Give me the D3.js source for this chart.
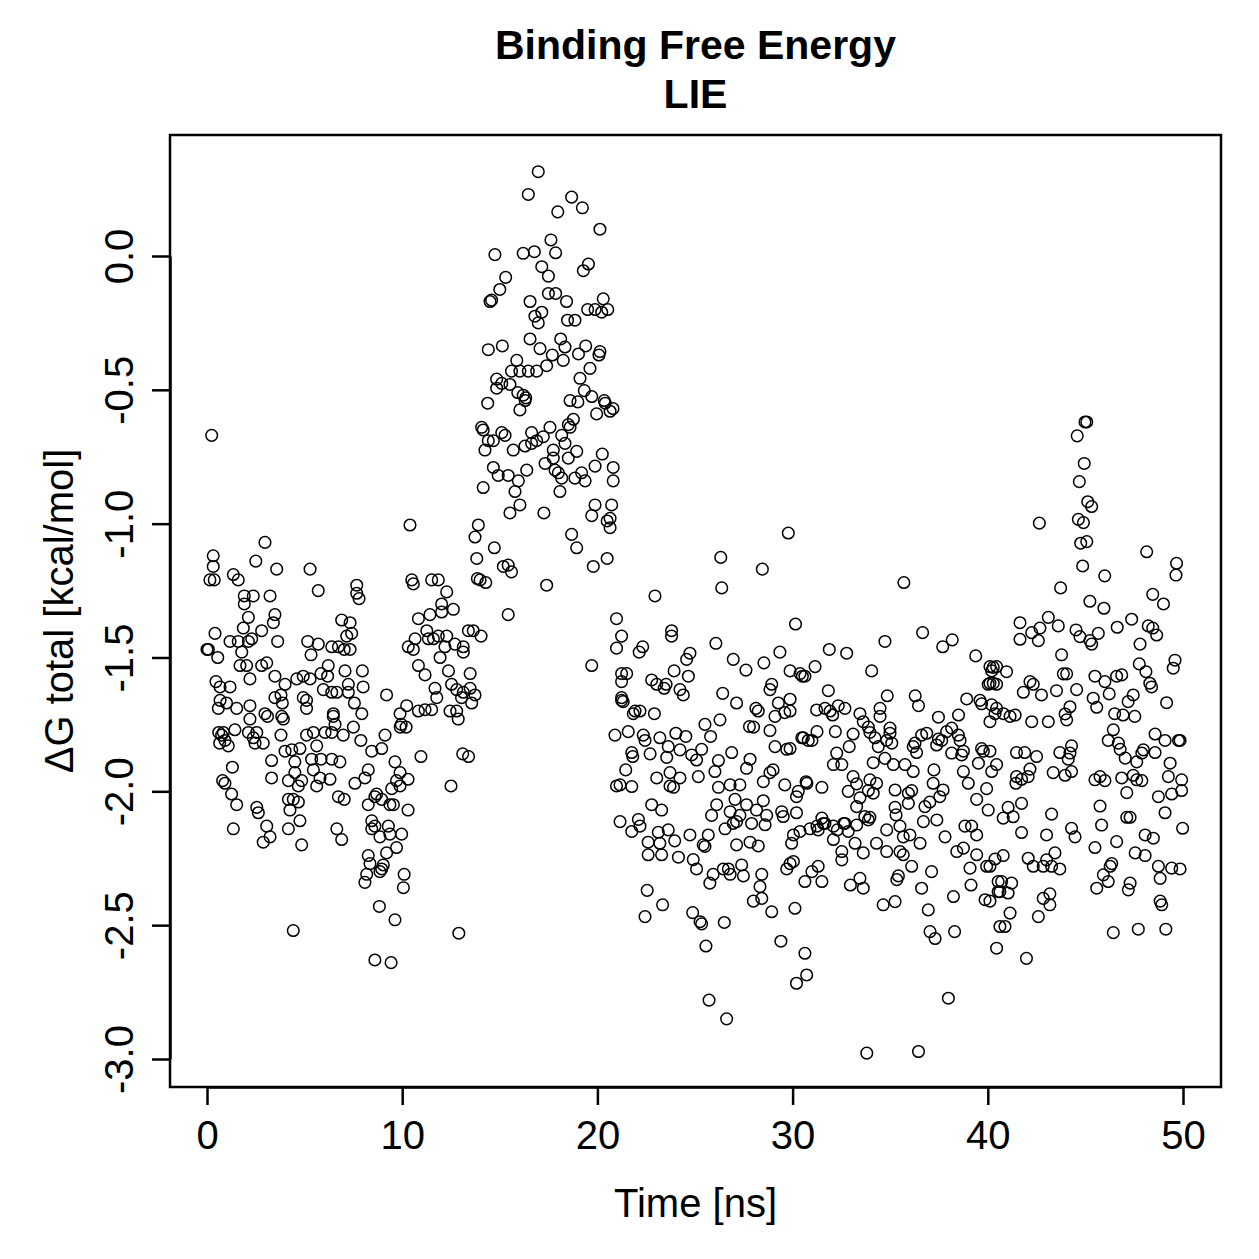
<!DOCTYPE html>
<html><head><meta charset="utf-8">
<script src="https://cdn.jsdelivr.net/npm/d3@7"></script>
<style>body{margin:0;background:#fff}</style>
</head><body><svg id="c" width="1259" height="1259" xmlns="http://www.w3.org/2000/svg"></svg>
<script>
const titleLines = ["Binding Free Energy", "LIE"];
const xLabel = "Time [ns]";
const yLabel = "ΔG total [kcal/mol]";
const xTicks = [0, 10, 20, 30, 40, 50];
const yTicks = [0, -0.5, -1, -1.5, -2, -2.5, -3];
const yTickLabels = ["0.0", "-0.5", "-1.0", "-1.5", "-2.0", "-2.5", "-3.0"];

// [time (ns), ΔG (kcal/mol)], 0-10 ns
const seg0to10 = [[0.24,-0.67],[0.32,-1.12],[0.32,-1.16],[0.15,-1.21],[0.37,-1.21],[0.0,-1.47],[0.07,-1.47],[0.41,-1.41],[0.55,-1.50],[0.46,-1.59],[0.67,-1.61],[1.18,-1.61],[0.67,-1.66],[1.0,-1.67],[0.58,-1.69],[1.52,-1.69],[2.2,-1.68],[2.97,-1.71],
[2.97,-1.07],[2.5,-1.14],[3.57,-1.17],[5.28,-1.17],[5.7,-1.25],[1.35,-1.19],[1.6,-1.21],[7.67,-1.23],[7.67,-1.26],[7.79,-1.28],[1.91,-1.27],[2.37,-1.27],[3.23,-1.27],[1.91,-1.30],[2.12,-1.35],[3.48,-1.34],[3.4,-1.37],[2.8,-1.40],[1.86,-1.39],[6.9,-1.36],[7.33,-1.37],[7.41,-1.41],[7.16,-1.42],[1.18,-1.44],[1.6,-1.44],[2.29,-1.43],[2.12,-1.44],[3.62,-1.44],[1.78,-1.48],[5.16,-1.44],[5.7,-1.45],[5.33,-1.49],[6.39,-1.46],[6.73,-1.46],[7.03,-1.47],[7.33,-1.47],[1.69,-1.53],[2.03,-1.53],[2.8,-1.53],[3.06,-1.52],[2.2,-1.58],[3.48,-1.57],[4.0,-1.60],[4.6,-1.58],[4.93,-1.57],[5.28,-1.58],[5.84,-1.56],[6.21,-1.53],[6.18,-1.57],[5.96,-1.62],[6.39,-1.63],[6.65,-1.63],[7.07,-1.55],[7.96,-1.55],[7.24,-1.60],[8.0,-1.61],[7.24,-1.63],[9.2,-1.64],[3.48,-1.65],[3.79,-1.64],[3.86,-1.67],[4.93,-1.65],[5.1,-1.66],[5.1,-1.69],[7.55,-1.67],[7.93,-1.71],[6.47,-1.71],[9.89,-1.71],
[0.84,-1.78],[0.75,-1.79],[0.92,-1.81],[1.09,-1.83],[1.43,-1.77],[2.12,-1.78],[2.37,-1.80],[2.55,-1.78],[2.46,-1.82],[2.88,-1.82],[2.2,-1.73],[3.1,-1.72],[3.83,-1.72],[3.91,-1.73],[3.79,-1.79],[3.31,-1.885],[3.31,-1.95],[1.3,-1.91],[0.92,-1.97],[0.8,-1.96],[1.26,-2.01],[1.52,-2.05],[1.35,-2.14],[0.6,-1.78],[0.65,-1.82],
[4.0,-1.85],[4.34,-1.845],[4.76,-1.84],[4.5,-1.89],[4.17,-1.96],[4.5,-1.93],[4.85,-1.96],[4.68,-1.98],[4.17,-2.03],[4.42,-2.03],[4.68,-2.04],[4.25,-2.07],[4.76,-2.11],[4.17,-2.14],[4.85,-2.20],[3.06,-2.13],[3.23,-2.17],[2.88,-2.19],[2.55,-2.06],[2.63,-2.08],
[5.1,-1.79],[5.45,-1.78],[5.62,-1.83],[5.36,-1.88],[5.84,-1.88],[5.45,-1.92],[5.79,-1.95],[5.62,-1.98],[6.3,-1.955],[6.39,-1.88],[6.81,-1.89],[6.05,-1.78],[6.39,-1.78],[6.47,-1.72],[6.56,-1.75],[6.98,-1.79],[7.5,-1.76],[7.88,-1.81],[8.44,-1.85],[8.95,-1.84],[9.12,-1.79],[7.58,-1.97],[8.26,-1.92],[8.09,-1.95],[6.73,-2.02],[7.03,-2.03],[6.65,-2.14],[6.9,-2.18],
[8.26,-2.05],[8.69,-2.01],[8.6,-2.02],[8.95,-2.03],[9.37,-2.05],[9.55,-2.05],[9.63,-1.89],[9.89,-1.93],[9.71,-1.96],[9.46,-1.99],[9.89,-1.98],[8.44,-2.11],[8.6,-2.13],[8.44,-2.14],[9.29,-2.13],[9.37,-2.16],[8.86,-2.17],[9.97,-2.16],[9.71,-2.21],[9.2,-2.23],[8.26,-2.24],[8.35,-2.27],[8.18,-2.31],[8.09,-2.34],[8.86,-2.30],[8.95,-2.29],[9.03,-2.275],[8.83,-2.43],[9.63,-2.48],[4.42,-2.52],[8.6,-2.63],[9.43,-2.64],[9.95,-1.75],[9.9,-1.76]];

// 10-21 ns
const seg10to21 = [[10.3,-1.955],[10.3,-2.07],[10.1,-2.31],[10.06,-2.36],[10.2,-1.76],
[10.4,-1.005],[13.9,-1.005],[13.73,-1.05],[14.72,-1.09],[13.82,-1.13],[15.18,-1.16],[15.43,-1.155],[15.6,-1.18],[13.99,-1.21],[13.85,-1.205],[14.28,-1.22],[17.4,-1.23],[15.43,-1.34],
[10.49,-1.21],[10.57,-1.225],[11.51,-1.21],[11.85,-1.21],[12.28,-1.255],[12.02,-1.30],[11.42,-1.34],[10.83,-1.355],[12.02,-1.33],[12.62,-1.32],
[13.39,-1.40],[13.64,-1.40],[14.04,-1.42],[10.31,-1.46],[10.57,-1.47],[10.66,-1.43],[11.26,-1.40],[11.34,-1.43],[11.6,-1.43],[11.85,-1.42],[12.28,-1.42],[12.19,-1.46],[12.7,-1.45],[13.13,-1.46],[13.13,-1.48],[11.94,-1.50],
[10.83,-1.53],[11.17,-1.565],[12.37,-1.55],[13.48,-1.56],[11.68,-1.615],[11.77,-1.65],[12.53,-1.60],[12.79,-1.62],[13.13,-1.63],[13.48,-1.615],[13.73,-1.64],[13.56,-1.67],[13.04,-1.65],[10.23,-1.68],[10.83,-1.70],[11.17,-1.695],[11.51,-1.695],[12.45,-1.70],[12.79,-1.70],[12.87,-1.73],
[20.98,-1.355],[21.24,-1.42],[20.98,-1.465],[19.71,-1.53],[21.24,-1.56],[21.24,-1.59],[21.24,-1.65],
[10.96,-1.87],[13.1,-1.86],[13.4,-1.87],[12.5,-1.98],[12.9,-2.53],
[14.38,-0.55],[16.03,-0.575],[16.3,-0.54],[18.6,-0.54],[19.0,-0.545],[19.96,-0.59],[20.4,-0.55],[20.65,-0.58],[20.8,-0.57],
[14.07,-0.64],[14.15,-0.65],[14.41,-0.69],[14.24,-0.725],[14.67,-0.69],[15.1,-0.66],[15.27,-0.67],
[15.69,-0.725],[16.29,-0.71],[16.63,-0.66],[16.63,-0.70],[16.89,-0.69],[17.23,-0.675],[17.57,-0.64],[17.74,-0.725],[18.17,-0.67],[18.34,-0.70],[18.6,-0.64],[18.77,-0.61],[18.94,-0.73],[18.51,-0.755],[17.74,-0.755],[17.32,-0.775],
[14.67,-0.79],[14.92,-0.82],[15.43,-0.82],[15.95,-0.84],[16.38,-0.80],[15.78,-0.88],[16.03,-0.93],[15.52,-0.96],[14.15,-0.865],[17.83,-0.80],[18.0,-0.81],[18.17,-0.83],[18.08,-0.88],[18.85,-0.83],[19.19,-0.81],[19.37,-0.84],[19.88,-0.785],[20.25,-0.74],[20.81,-0.79],[20.81,-0.84],[17.26,-0.96],
[19.88,-0.93],[20.73,-0.93],[19.71,-0.97],[20.65,-0.98],[20.65,-1.015],[18.68,-1.04],[18.94,-1.09],[19.79,-1.16],[20.5,-1.13],[20.5,-0.99],
[16.97,0.315],[16.46,0.23],[18.68,0.22],[19.23,0.18],[17.97,0.165],[20.13,0.10],
[14.75,0.005],[16.2,0.01],[16.77,0.016],[17.62,0.06],[17.86,0.012],[17.15,-0.04],[17.49,-0.075],[19.54,-0.03],[19.28,-0.055],
[15.3,-0.08],[15.0,-0.125],[14.5,-0.17],[14.58,-0.165],[16.55,-0.17],[17.49,-0.14],[17.86,-0.14],[18.42,-0.17],[16.8,-0.225],[17.15,-0.21],[16.97,-0.25],[18.47,-0.24],[18.85,-0.24],[19.5,-0.20],[19.88,-0.20],[20.3,-0.16],[20.53,-0.20],[20.22,-0.21],
[14.41,-0.35],[15.13,-0.336],[16.55,-0.31],[17.06,-0.346],[18.12,-0.31],[18.34,-0.34],[17.69,-0.37],[18.25,-0.39],[17.4,-0.41],[19.03,-0.366],[19.4,-0.336],[20.13,-0.357],[20.08,-0.37],[19.62,-0.42],[19.11,-0.457],[15.87,-0.39],[15.6,-0.43],[16.03,-0.43],[16.46,-0.43],[16.89,-0.43],[14.84,-0.46],[15.1,-0.476],[14.84,-0.494],[15.52,-0.48],[15.92,-0.51],[16.2,-0.52],[16.33,-0.53],[19.33,-0.503],[19.71,-0.525],[20.35,-0.54],[18.51,-0.63]];

// 21-30 ns
const seg21to30 = [[26.32,-1.126],[28.45,-1.17],[26.37,-1.24],[22.95,-1.27],[22.14,-1.48],[22.32,-1.46],[23.8,-1.40],[23.8,-1.42],[26.07,-1.447],[30.15,-1.375],
[21.5,-1.56],[22.78,-1.584],[23.04,-1.60],[23.52,-1.60],[23.42,-1.615],[23.93,-1.55],[24.66,-1.57],[24.57,-1.507],[24.74,-1.484],[24.23,-1.62],[24.4,-1.64],[26.96,-1.507],[27.61,-1.547],[28.53,-1.52],[29.35,-1.48],[29.87,-1.55],[30.38,-1.56],[30.5,-1.57],
[21.24,-1.66],[21.32,-1.665],[21.93,-1.70],[21.84,-1.71],[22.18,-1.70],[22.92,-1.71],[26.42,-1.634],[27.13,-1.67],[28.12,-1.69],[28.24,-1.70],[28.84,-1.62],[28.93,-1.60],[29.27,-1.67],[29.87,-1.656],[29.6,-1.706],[29.1,-1.72],
[20.9,-1.79],[21.58,-1.777],[22.35,-1.79],[22.44,-1.81],[21.76,-1.855],[21.81,-1.87],[22.7,-1.86],[23.2,-1.80],[24.02,-1.783],[24.53,-1.795],[23.63,-1.833],[24.23,-1.845],[23.55,-1.873],[25.34,-1.843],[24.83,-1.864],[25.08,-1.883],[25.51,-1.75],[25.8,-1.795],[26.28,-1.733],[27.79,-1.758],[28.0,-1.76],[28.84,-1.773],[26.88,-1.855],[27.82,-1.88],[26.2,-1.885],[29.1,-1.833],[29.7,-1.843],[30.47,-1.80],[30.8,-1.81],
[21.45,-1.92],[21.16,-1.976],[20.98,-1.98],[21.76,-1.982],[23.04,-1.95],[23.72,-1.93],[23.72,-1.98],[24.23,-1.95],[25.17,-1.945],[26.02,-1.926],[27.64,-1.914],[28.5,-1.964],[28.84,-1.93],[29.0,-1.92],[29.6,-1.976],[30.29,-2.0],[30.69,-1.964],
[23.9,-1.985],[26.2,-1.985],[26.8,-1.976],[27.3,-1.976],
[22.78,-2.05],[23.29,-2.07],[26.11,-2.05],[25.85,-2.09],[27.05,-2.03],[26.8,-2.076],[27.3,-2.09],[27.64,-2.05],[28.15,-2.07],[28.5,-2.035],[28.67,-2.09],[28.59,-2.125],[27.9,-2.12],[27.13,-2.113],[26.96,-2.12],[29.44,-2.076],[29.52,-2.094],[30.2,-2.08],[26.54,-2.14],[21.16,-2.113],[22.1,-2.105],[22.18,-2.13],[21.76,-2.15],[23.12,-2.153],[23.63,-2.144],[22.6,-2.19],[23.2,-2.194],[23.96,-2.185],[22.6,-2.237],[23.29,-2.237],[24.15,-2.246],[24.74,-2.163],[25.68,-2.163],[25.42,-2.2],[25.51,-2.206],[24.91,-2.255],[25.08,-2.29],[25.76,-2.343],[25.93,-2.31],[26.45,-2.29],[26.8,-2.31],[26.71,-2.29],[27.39,-2.275],[27.48,-2.316],[28.42,-2.31],[28.33,-2.356],[27.99,-2.41],[28.42,-2.40],[28.93,-2.45],[29.95,-2.194],[29.87,-2.27],[29.7,-2.29],[30.38,-2.15],[27.13,-2.2],[27.82,-2.19],[28.24,-2.204],
[22.55,-2.37],[23.34,-2.424],[22.44,-2.468],[24.88,-2.453],[25.26,-2.487],[25.34,-2.495],[26.5,-2.49],[25.56,-2.578],[29.4,-2.56],[25.72,-2.78],[26.62,-2.85]];

// 30-40 ns
const seg30to40 = [[35.7,-1.22],[29.78,-1.035],[34.73,-1.44],[36.66,-1.407],[37.69,-1.46],[38.18,-1.434],[39.38,-1.494],[31.88,-1.47],[32.77,-1.484],[31.15,-1.534],[30.63,-1.57],[34.05,-1.55],
[40.28,-1.537],[40.2,-1.55],[40.02,-1.60],[40.45,-1.60],[38.92,-1.655],[39.6,-1.66],[39.68,-1.673],[40.2,-1.677],[40.45,-1.69],[40.37,-1.71],[40.11,-1.74],[38.5,-1.715],[37.47,-1.723],[36.28,-1.643],[36.45,-1.68],[34.85,-1.643],[34.48,-1.69],[34.48,-1.72],[33.45,-1.71],[33.62,-1.74],[33.88,-1.76],[33.96,-1.78],[34.22,-1.80],[34.39,-1.833],[34.99,-1.764],[34.99,-1.783],[35.08,-1.82],[34.82,-1.81],[31.83,-1.624],[31.23,-1.696],[31.66,-1.69],[31.92,-1.70],[32.05,-1.715],[32.34,-1.68],[32.68,-1.69],[29.87,-1.70],[29.87,-1.84],
[36.61,-1.79],[36.87,-1.783],[36.27,-1.82],[36.18,-1.833],[36.35,-1.855],[37.38,-1.827],[37.64,-1.81],[37.89,-1.777],[38.15,-1.764],[38.49,-1.79],[38.58,-1.81],[37.47,-1.805],[38.75,-1.85],[38.66,-1.864],[39.68,-1.84],[39.77,-1.85],[38.15,-1.857],[30.55,-1.80],[30.99,-1.81],[31.25,-1.777],[32.19,-1.777],[33.1,-1.786],[32.9,-1.833],[32.26,-1.857],[32.09,-1.90],[32.52,-1.90],[34.13,-1.893],[34.73,-1.877],[35.16,-1.90],[35.76,-1.90],[36.18,-1.926],[37.24,-1.92],[38.75,-1.926],[39.52,-1.895],[40.2,-1.926],[39.0,-1.97],[39.94,-1.99],[39.43,-2.03],[40.02,-2.07],[37.71,-1.995],[37.2,-1.97],[37.54,-2.02],[37.03,-2.04],[36.78,-2.057],[36.1,-1.997],[35.93,-2.007],[35.93,-2.045],[35.25,-1.995],[35.25,-2.06],[35.3,-2.088],[33.96,-1.957],[34.3,-1.97],[33.88,-1.997],[34.13,-2.007],[33.1,-1.945],[33.28,-1.972],[32.85,-2.0],[33.45,-2.024],[33.28,-2.057],[33.7,-2.094],[33.96,-2.097],[31.5,-1.985],[30.73,-1.97],[30.2,-2.02],[31.5,-2.10],[31.66,-2.12],[31.25,-2.13],[32.62,-2.12],[32.29,-2.144],
[30.04,-2.163],[30.89,-2.14],[31.31,-2.144],[31.57,-2.12],[32.09,-2.13],[32.68,-2.12],[32.85,-2.15],[33.28,-2.126],[33.88,-2.107],[32.09,-2.18],[32.52,-2.225],[32.52,-2.256],[33.2,-2.194],[33.62,-2.23],[34.3,-2.194],[34.82,-2.144],[34.82,-2.225],[35.5,-2.13],[35.67,-2.17],[36.01,-2.163],[35.5,-2.225],[35.67,-2.237],[36.53,-2.194],[36.7,-2.113],[37.39,-2.107],[37.81,-2.17],[38.41,-2.225],[38.75,-2.212],[38.83,-2.13],[39.17,-2.13],[39.43,-2.163],[39.43,-2.237],[39.94,-2.28],[39.09,-2.287],[39.14,-2.35],[38.24,-2.393],[39.86,-2.405],[30.04,-2.262],[30.99,-2.30],[31.31,-2.28],[30.63,-2.337],[31.5,-2.337],[32.96,-2.35],[33.45,-2.325],[33.62,-2.362],[34.64,-2.424],[35.25,-2.412],[35.34,-2.33],[35.42,-2.316],[36.1,-2.28],[37.12,-2.30],[36.61,-2.362],[36.95,-2.443],[37.04,-2.524],[37.3,-2.55],[38.3,-2.524],[30.12,-2.437],[30.63,-2.605],[30.72,-2.686],[30.2,-2.717],[37.98,-2.773],[33.8,-2.978],[36.45,-2.972]];

// 40-50 ns
const seg40to50 = [[40.53,-2.375],[40.53,-2.337],[40.62,-2.505],[40.45,-2.586],
[45.07,-0.62],[44.98,-0.62],[44.58,-0.672],[44.94,-0.775],[44.69,-0.843],[45.12,-0.918],[45.32,-0.936],[44.64,-0.984],[44.9,-0.996],[44.76,-1.073],[45.07,-1.067],[44.86,-1.158],[42.64,-0.998],[48.14,-1.105],[49.67,-1.148],[49.64,-1.192],[45.99,-1.195],[43.73,-1.24],[45.23,-1.29],[45.95,-1.316],[48.45,-1.264],[49.0,-1.30],
[41.65,-1.37],[41.65,-1.432],[42.25,-1.407],[42.67,-1.39],[42.59,-1.437],[43.1,-1.35],[43.61,-1.382],[44.52,-1.397],[44.72,-1.422],[45.23,-1.437],[45.32,-1.45],[45.66,-1.41],[46.63,-1.387],[47.37,-1.357],[48.22,-1.382],[48.45,-1.39],[48.65,-1.416],[47.8,-1.45],[43.78,-1.49],[44.04,-1.561],[43.87,-1.561],[40.11,-1.534],[40.45,-1.534],[40.96,-1.553],[40.28,-1.596],[40.11,-1.596],[42.16,-1.59],[42.33,-1.60],[41.82,-1.63],[42.75,-1.64],[43.52,-1.624],[44.55,-1.62],[45.49,-1.57],[46.0,-1.59],[46.6,-1.57],[46.86,-1.565],[45.4,-1.652],[45.58,-1.686],[46.22,-1.636],[46.5,-1.71],[46.93,-1.715],[47.53,-1.72],[47.19,-1.665],[47.45,-1.64],[47.76,-1.524],[48.1,-1.553],[48.3,-1.596],[48.39,-1.61],[49.59,-1.51],[49.5,-1.54],[49.16,-1.669],[44.21,-1.684],[43.96,-1.711],[44.04,-1.733],[43.1,-1.74],[42.25,-1.74],[41.4,-1.715],[41.14,-1.72],[40.8,-1.71],
[46.43,-1.77],[46.17,-1.81],[46.69,-1.82],[46.78,-1.843],[47.04,-1.876],[47.63,-1.89],[47.89,-1.857],[47.97,-1.845],[48.57,-1.855],[48.57,-1.786],[49.08,-1.81],[49.77,-1.81],[49.85,-1.81],[49.34,-1.895],[49.25,-1.945],[49.93,-1.957],[49.93,-1.997],[49.42,-2.01],[48.74,-2.02],[49.08,-2.08],[49.98,-2.138],
[41.47,-1.855],[41.89,-1.855],[42.5,-1.87],[42.16,-1.917],[41.47,-1.945],[41.73,-1.955],[42.07,-1.945],[41.44,-1.97],[40.45,-1.90],[40.11,-1.85],[43.69,-1.855],[44.29,-1.83],[44.21,-1.857],[44.12,-1.88],[44.29,-1.926],[43.96,-1.94],[43.35,-1.93],[45.75,-1.945],[46.0,-1.96],[45.49,-1.957],[46.86,-1.95],[47.45,-1.94],[47.63,-1.957],[47.89,-1.96],[47.12,-2.005],[45.75,-2.055],[45.83,-2.126],[45.49,-2.21],[46.6,-2.188],[47.12,-2.097],[47.29,-2.097],[48.06,-2.163],[48.48,-2.175],[47.55,-2.23],[48.06,-2.24],[48.74,-2.28],[49.42,-2.287],[49.85,-2.29],[48.83,-2.325],
[41.73,-2.045],[41.04,-2.06],[41.3,-2.095],[40.79,-2.10],[43.27,-2.085],[41.73,-2.154],[43.01,-2.163],[44.29,-2.138],[44.47,-2.17],[40.37,-2.253],[40.79,-2.24],[40.11,-2.28],[42.07,-2.25],[42.33,-2.28],[42.84,-2.28],[43.01,-2.256],[43.44,-2.23],[43.27,-2.28],[43.69,-2.29],[40.71,-2.337],[41.22,-2.343],[40.62,-2.375],[41.04,-2.38],[40.11,-2.41],[42.84,-2.40],[43.18,-2.383],[43.18,-2.424],[41.14,-2.455],[40.88,-2.505],[42.59,-2.468],[41.98,-2.624],[45.92,-2.312],[46.27,-2.28],[46.35,-2.27],[46.17,-2.337],[45.58,-2.362],[47.29,-2.343],[47.2,-2.368],[48.83,-2.41],[48.91,-2.424],[46.43,-2.528],[47.71,-2.515],[49.12,-2.515]];

const points = [].concat(seg0to10, seg10to21, seg21to30, seg30to40, seg40to50);

const FONT = "'Liberation Sans', Arial, Helvetica, sans-serif";
const box = {left: 170, right: 1221, top: 135, bottom: 1087};
const x = d3.scaleLinear().domain([0, 50]).range([207, 1183]);
const y = d3.scaleLinear().domain([0, -3]).range([256, 1059]);

const svg = d3.select("#c");
svg.append("rect").attr("width", 1259).attr("height", 1259).attr("fill", "#fff");

// points
svg.append("g").selectAll("circle").data(points).join("circle")
  .attr("cx", d => x(d[0])).attr("cy", d => y(d[1])).attr("r", 5.8)
  .attr("fill", "none").attr("stroke", "#000").attr("stroke-width", 1.5);

// box
svg.append("rect").attr("x", box.left).attr("y", box.top)
  .attr("width", box.right - box.left).attr("height", box.bottom - box.top)
  .attr("fill", "none").attr("stroke", "#000").attr("stroke-width", 2.5);

// x axis
const gx = svg.append("g").attr("transform", `translate(0,${box.bottom})`)
  .call(d3.axisBottom(x).tickValues(xTicks).tickFormat(d3.format("d")).tickSize(18).tickSizeOuter(0));
gx.select(".domain").attr("stroke-width", 2.5);
gx.selectAll(".tick line").attr("stroke-width", 2.5);
gx.selectAll(".tick text").attr("y", 62).attr("dy", null)
  .attr("font-family", FONT).attr("font-size", 40).attr("fill", "#000");

// y axis
const gy = svg.append("g").attr("transform", `translate(${box.left},0)`)
  .call(d3.axisLeft(y).tickValues(yTicks).tickFormat((d, i) => yTickLabels[i]).tickSize(18).tickSizeOuter(0));
gy.select(".domain").attr("stroke-width", 2.5);
gy.selectAll(".tick line").attr("stroke-width", 2.5);
gy.selectAll(".tick text").attr("x", null).attr("dy", null).attr("y", null)
  .attr("transform", "translate(-37,0) rotate(-90)").attr("text-anchor", "middle")
  .attr("font-family", FONT).attr("font-size", 40).attr("fill", "#000");
svg.selectAll(".domain, .tick line").attr("stroke", "#000");

// titles
const cx = (box.left + box.right) / 2;
svg.append("text").attr("x", cx).attr("y", 59).attr("text-anchor", "middle")
  .attr("font-family", FONT).attr("font-weight", "bold").attr("font-size", 41).text(titleLines[0]);
svg.append("text").attr("x", cx).attr("y", 108).attr("text-anchor", "middle")
  .attr("font-family", FONT).attr("font-weight", "bold").attr("font-size", 41).text(titleLines[1]);
svg.append("text").attr("x", cx).attr("y", 1217).attr("text-anchor", "middle")
  .attr("font-family", FONT).attr("font-size", 40).text(xLabel);
svg.append("text").attr("transform", `translate(73,${(box.top + box.bottom) / 2}) rotate(-90)`)
  .attr("text-anchor", "middle").attr("font-family", FONT).attr("font-size", 40).text(yLabel);
</script></body></html>
